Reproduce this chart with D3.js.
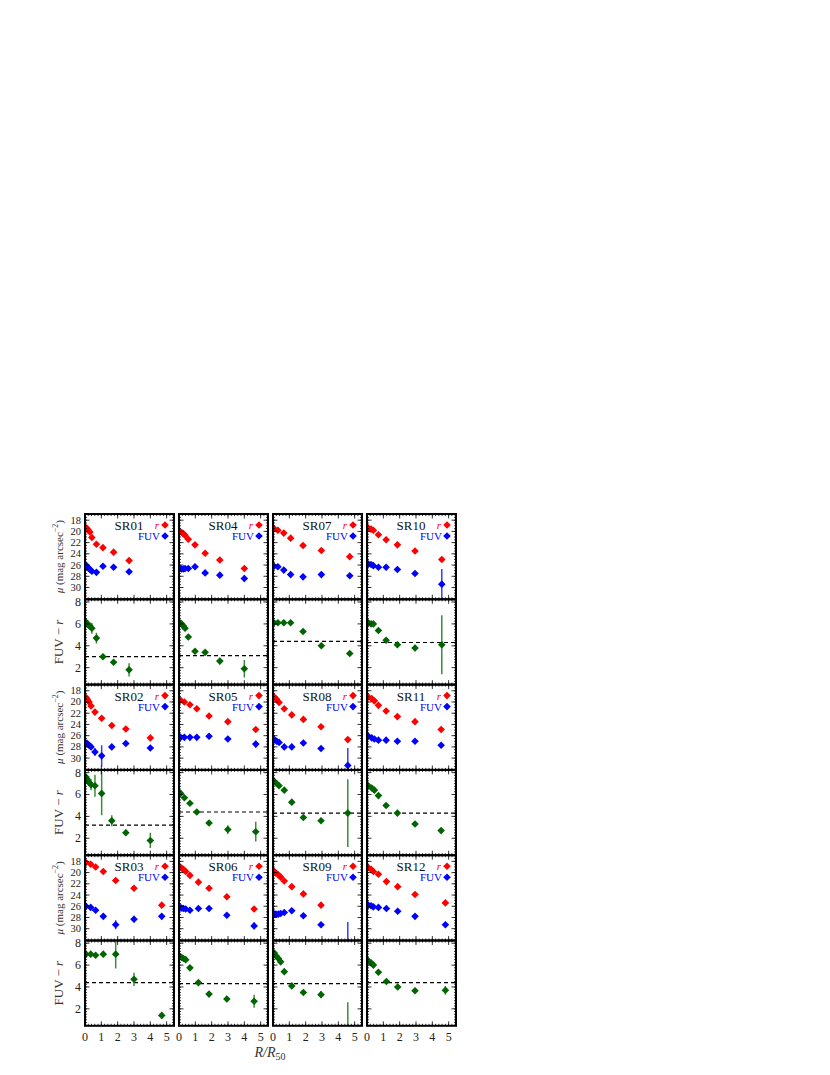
<!DOCTYPE html>
<html>
<head>
<meta charset="utf-8">
<script src="https://cdn.jsdelivr.net/npm/d3@7"></script>
<style>
body { margin: 0; background: #fff; }
text { font-family: "Liberation Serif", "DejaVu Serif", serif; }
</style>
</head>
<body>
<div id="chart"></div>
<script>
// galaxies, ordered column by column
let names = ["SR01", "SR02", "SR03", "SR04", "SR05", "SR06", "SR07", "SR08", "SR09", "SR10", "SR11", "SR12"];
let radii = [
    [0.05, 0.12, 0.2, 0.3, 0.42, 0.7, 1.1, 1.75, 2.7],
    [0.06, 0.14, 0.25, 0.37, 0.61, 1.02, 1.64, 2.5, 4.0],
    [0.06, 0.35, 0.65, 1.12, 1.88, 3.0, 4.7],
    [0.06, 0.16, 0.27, 0.37, 0.57, 0.98, 1.6, 2.5, 4.0],
    [0.1, 0.33, 0.67, 1.09, 1.84, 2.99, 4.7],
    [0.06, 0.16, 0.27, 0.41, 0.67, 1.19, 1.84, 2.93, 4.6],
    [0.06, 0.3, 0.66, 1.08, 1.84, 2.96, 4.7],
    [0.08, 0.22, 0.37, 0.69, 1.15, 1.86, 2.94, 4.58],
    [0.08, 0.18, 0.33, 0.47, 0.69, 1.15, 1.86, 2.94, 4.58],
    [0.08, 0.25, 0.39, 0.7, 1.17, 1.86, 2.94, 4.58],
    [0.08, 0.29, 0.45, 0.7, 1.17, 1.86, 2.94, 4.54],
    [0.08, 0.25, 0.39, 0.7, 1.19, 1.88, 2.94, 4.8]
];
let muR = [
    [19.3, 19.5, 19.8, 20.1, 21.1, 22.3, 22.9, 23.7, 25.2],
    [19.2, 19.5, 20.0, 20.7, 21.8, 22.9, 24.2, 24.8, 26.4],
    [18.2, 18.5, 19.0, 19.8, 21.4, 22.8, 25.8],
    [20.0, 20.2, 20.4, 20.7, 21.4, 22.4, 23.9, 25.1, 26.6],
    [19.7, 20.0, 20.5, 21.2, 22.5, 23.5, 24.9],
    [19.0, 19.2, 19.4, 19.8, 20.5, 21.7, 22.8, 24.3, 26.5],
    [19.5, 19.8, 20.3, 21.2, 22.5, 23.4, 24.5],
    [19.1, 19.5, 20.1, 21.2, 22.3, 23.1, 24.4, 26.7],
    [19.8, 20.1, 20.4, 20.8, 21.5, 22.5, 23.8, 25.8, null],
    [19.4, 19.6, 19.8, 20.6, 21.5, 22.4, 23.5, 25.0],
    [19.1, 19.4, 19.8, 20.6, 21.6, 22.6, 23.5, 24.9],
    [19.1, 19.4, 19.8, 20.3, 21.6, 22.5, 23.9, 25.4]
];
let muFUV = [
    [26.0, 26.2, 26.5, 26.8, 27.1, 27.3, 26.2, 26.4, 27.2],
    [27.3, 27.4, 27.7, 28.0, 28.9, 29.6, 28.0, 27.4, 28.2],
    [26.0, 26.2, 26.7, 27.8, 29.3, 28.3, 27.8],
    [26.6, 26.7, 26.7, 26.6, 26.6, 26.3, 27.4, 27.8, 28.4],
    [26.3, 26.3, 26.3, 26.3, 26.1, 26.6, 27.5],
    [26.2, 26.3, 26.4, 26.5, 26.7, 26.4, 26.4, 27.6, 29.5],
    [26.2, 26.3, 26.9, 27.7, 28.1, 27.7, 27.9],
    [26.7, 27.0, 27.2, 28.0, 28.0, 27.3, 28.3, 31.3],
    [27.4, 27.4, 27.4, 27.3, 27.1, 26.8, 27.7, 29.3, 34.0],
    [25.8, 25.9, 26.1, 26.4, 26.4, 26.8, 27.5, 29.4],
    [26.1, 26.4, 26.6, 26.8, 26.8, 27.0, 27.0, 27.7],
    [25.8, 25.9, 26.1, 26.2, 26.4, 26.9, 27.8, 29.3]
];
let errFUV = [
    [0.2, 0.2, 0.2, 0.2, 0.2, 0.3, 0.2, 0.2, 0.4],
    [0.2, 0.2, 0.2, 0.3, 0.7, 1.9, 0.4, 0.3, 0.5],
    [0.2, 0.2, 0.2, 0.2, 0.8, 0.6, 0.3],
    [0.2, 0.2, 0.2, 0.2, 0.2, 0.2, 0.2, 0.3, 0.6],
    [0.2, 0.2, 0.2, 0.2, 0.2, 0.3, 0.6],
    [0.2, 0.2, 0.2, 0.2, 0.2, 0.2, 0.2, 0.3, 0.6],
    [0.2, 0.2, 0.2, 0.2, 0.2, 0.2, 0.3],
    [0.2, 0.2, 0.2, 0.2, 0.2, 0.2, 0.3, 3.1],
    [0.2, 0.2, 0.2, 0.2, 0.2, 0.2, 0.2, 0.3, 5.2],
    [0.2, 0.2, 0.2, 0.2, 0.2, 0.2, 0.3, 2.7],
    [0.2, 0.2, 0.2, 0.2, 0.2, 0.2, 0.2, 0.3],
    [0.2, 0.2, 0.2, 0.2, 0.2, 0.2, 0.2, 0.3]
];
let colour = [
    [6.2, 6.0, 5.9, 5.8, 5.6, 4.7, 3.0, 2.5, 1.8],
    [7.6, 7.4, 7.1, 6.9, 6.8, 6.1, 3.6, 2.5, 1.8],
    [7.0, 7.0, 6.9, 7.0, 7.0, 4.7, 1.4],
    [6.1, 6.0, 5.8, 5.6, 4.8, 3.5, 3.4, 2.6, 1.9],
    [6.1, 5.7, 5.2, 4.4, 3.4, 2.8, 2.6],
    [6.8, 6.7, 6.6, 6.5, 5.75, 4.4, 3.35, 2.9, 2.7],
    [6.1, 6.1, 6.1, 6.1, 5.3, 4.0, 3.3],
    [7.2, 7.0, 6.8, 6.4, 5.3, 3.9, 3.6, 4.3],
    [7.1, 6.85, 6.6, 6.3, 5.4, 4.1, 3.5, 3.3, -1.0],
    [6.1, 6.0, 6.0, 5.4, 4.5, 4.1, 3.8, 4.1],
    [6.8, 6.6, 6.4, 5.9, 5.0, 4.3, 3.3, 2.7],
    [6.4, 6.2, 6.0, 5.35, 4.5, 4.0, 3.65, 3.7]
];
let errColour = [
    [0.2, 0.2, 0.2, 0.3, 0.5, 0.5, 0.2, 0.2, 0.6],
    [0.2, 0.3, 0.3, 0.5, 1.0, 2.0, 0.5, 0.3, 0.7],
    [0.2, 0.2, 0.2, 0.2, 1.3, 0.6, 0.3],
    [0.2, 0.2, 0.2, 0.2, 0.2, 0.2, 0.2, 0.3, 0.8],
    [0.2, 0.2, 0.2, 0.2, 0.2, 0.4, 0.9],
    [0.2, 0.2, 0.2, 0.2, 0.2, 0.2, 0.2, 0.2, 0.6],
    [0.2, 0.2, 0.2, 0.2, 0.2, 0.2, 0.2],
    [0.2, 0.2, 0.2, 0.2, 0.2, 0.2, 0.2, 3.1],
    [0.2, 0.2, 0.2, 0.2, 0.2, 0.2, 0.2, 0.3, 3.6],
    [0.2, 0.2, 0.2, 0.2, 0.2, 0.2, 0.3, 2.7],
    [0.2, 0.2, 0.2, 0.2, 0.2, 0.2, 0.2, 0.2],
    [0.2, 0.2, 0.2, 0.2, 0.2, 0.2, 0.2, 0.4]
];
let dashLevel = [3.0, 3.2, 4.4, 3.1, 4.4, 4.3, 4.4, 4.3, 4.3, 4.3, 4.3, 4.4];
let muTicks = [18, 20, 22, 24, 26, 28, 30];
let colourTicks = [2, 4, 6, 8];
let xTicks = [0, 1, 2, 3, 4, 5];

let _default = {
    left: 85,
    top: 514,
    width: 89,
    col_step: 94,
    height: 85.3,
    red: "#ff0000",
    blue: "#0000ff",
    green: "#006400",
    errgreen: "#3c8c3c",
    errblue: "#3b3bff"
};

let svg = d3.select("#chart").append("svg")
    .attr("width", 830)
    .attr("height", 1075);

let x = d3.scaleLinear().domain([0, 5.45]).range([0, _default.width]);
let yMu = d3.scaleLinear().domain([16.9, 32.1]).range([0, _default.height]);
let yCol = d3.scaleLinear().domain([0.45, 8.25]).range([_default.height, 0]);
// matplotlib style diamond: as wide as it is tall
let diamond = "M0,-3.8L3.8,0L0,3.8L-3.8,0Z";

let xMinor = d3.range(0, 5.45, 0.2);
let muMinor = d3.range(17, 32.1, 0.5);
let colMinor = d3.range(0.5, 8.25, 0.25);

// inward ticks on all four sides of a panel
let frameTicks = (g, y, yMajor, yMinor) => {
    let w = _default.width, h = _default.height;
    let tk = g.append("g").attr("stroke", "#000").attr("stroke-width", 0.8);
    [[xMinor, 2], [xTicks, 4.5]].forEach(([vals, len]) => {
        tk.selectAll(null).data(vals).enter().append("line")
            .attr("x1", d => x(d)).attr("x2", d => x(d)).attr("y1", 0).attr("y2", len);
        tk.selectAll(null).data(vals).enter().append("line")
            .attr("x1", d => x(d)).attr("x2", d => x(d)).attr("y1", h).attr("y2", h - len);
    });
    [[yMinor, 2], [yMajor, 4.5]].forEach(([vals, len]) => {
        tk.selectAll(null).data(vals).enter().append("line")
            .attr("y1", d => y(d)).attr("y2", d => y(d)).attr("x1", 0).attr("x2", len);
        tk.selectAll(null).data(vals).enter().append("line")
            .attr("y1", d => y(d)).attr("y2", d => y(d)).attr("x1", w).attr("x2", w - len);
    });
    g.append("rect").attr("width", w).attr("height", h)
        .attr("fill", "none").attr("stroke", "#000").attr("stroke-width", 2);
};

let yLabels = (g, y, vals, size) => {
    g.selectAll(null).data(vals).enter().append("text")
        .attr("x", -4).attr("y", d => y(d) + size / 3).attr("text-anchor", "end")
        .attr("font-size", size).attr("fill", "#222").text(d => d);
};

names.forEach((name, i) => {
    let col = Math.floor(i / 3), row = i % 3;
    let gx = _default.left + col * _default.col_step;
    let muTop = _default.top + row * 2 * _default.height;
    let colTop = muTop + _default.height;
    let rs = radii[i];

    // mu panel
    let g = svg.append("g").attr("transform", `translate(${gx},${muTop})`);
    g.append("clipPath").attr("id", "cm" + i).append("rect")
        .attr("width", _default.width).attr("height", _default.height);
    let pts = g.append("g").attr("clip-path", `url(#cm${i})`);
    pts.selectAll(null).data(rs).enter().append("line")
        .attr("x1", d => x(d)).attr("x2", d => x(d))
        .attr("y1", (d, j) => yMu(muFUV[i][j] - errFUV[i][j]))
        .attr("y2", (d, j) => yMu(muFUV[i][j] + errFUV[i][j]))
        .attr("stroke", _default.errblue).attr("stroke-width", 1.5);
    pts.selectAll(null).data(rs).enter().append("path")
        .attr("d", diamond)
        .attr("transform", (d, j) => `translate(${x(d)},${yMu(muFUV[i][j])})`)
        .attr("fill", _default.blue);
    pts.selectAll(null).data(rs.map((d, j) => [d, muR[i][j]]).filter(d => d[1] !== null)).enter().append("path")
        .attr("d", diamond)
        .attr("transform", d => `translate(${x(d[0])},${yMu(d[1])})`)
        .attr("fill", _default.red);
    // legend
    g.append("text").attr("x", 74).attr("y", 15).attr("text-anchor", "end")
        .attr("font-size", 11).attr("font-style", "italic").attr("fill", _default.red).text("r");
    g.append("path").attr("d", diamond).attr("transform", "translate(80,11)").attr("fill", _default.red);
    g.append("text").attr("x", 75).attr("y", 26).attr("text-anchor", "end")
        .attr("font-size", 11).attr("fill", _default.blue).text("FUV");
    g.append("path").attr("d", diamond).attr("transform", "translate(80,22)").attr("fill", _default.blue);
    g.append("text").attr("x", 44).attr("y", 16).attr("text-anchor", "middle")
        .attr("font-size", 13).attr("fill", "#111").text(name);
    frameTicks(g, yMu, muTicks, muMinor);
    if (col === 0) yLabels(g, yMu, muTicks, 10.5);

    // colour panel
    let h = svg.append("g").attr("transform", `translate(${gx},${colTop})`);
    h.append("clipPath").attr("id", "cc" + i).append("rect")
        .attr("width", _default.width).attr("height", _default.height);
    let cp = h.append("g").attr("clip-path", `url(#cc${i})`);
    cp.append("line").attr("x1", 0).attr("x2", _default.width)
        .attr("y1", yCol(dashLevel[i])).attr("y2", yCol(dashLevel[i]))
        .attr("stroke", "#000").attr("stroke-width", 1.2).attr("stroke-dasharray", "4,3");
    cp.selectAll(null).data(rs).enter().append("line")
        .attr("x1", d => x(d)).attr("x2", d => x(d))
        .attr("y1", (d, j) => yCol(colour[i][j] - errColour[i][j]))
        .attr("y2", (d, j) => yCol(colour[i][j] + errColour[i][j]))
        .attr("stroke", _default.errgreen).attr("stroke-width", 1.5);
    cp.selectAll(null).data(rs).enter().append("path")
        .attr("d", diamond)
        .attr("transform", (d, j) => `translate(${x(d)},${yCol(colour[i][j])})`)
        .attr("fill", _default.green);
    frameTicks(h, yCol, colourTicks, colMinor);
    if (col === 0) yLabels(h, yCol, colourTicks, 12);
    if (row === 2) {
        h.selectAll(null).data(xTicks).enter().append("text")
            .attr("x", d => x(d)).attr("y", _default.height + 15).attr("text-anchor", "middle")
            .attr("font-size", 12).attr("fill", "#222").text(d => d);
    }

    if (col === 0) {
        svg.append("text")
            .attr("transform", `translate(63,${muTop + _default.height / 2}) rotate(-90)`)
            .attr("text-anchor", "middle").attr("font-size", 11).attr("fill", "#333")
            .html('<tspan font-style="italic">μ</tspan> (mag arcsec<tspan dy="-5" font-size="8">−2</tspan><tspan dy="5">)</tspan>');
        svg.append("text")
            .attr("transform", `translate(63,${colTop + _default.height / 2}) rotate(-90)`)
            .attr("text-anchor", "middle").attr("font-size", 13).attr("fill", "#333")
            .html('FUV − <tspan font-style="italic">r</tspan>');
    }
});

svg.append("text").attr("x", 270).attr("y", 1057).attr("text-anchor", "middle")
    .attr("font-size", 14).attr("fill", "#333").attr("font-style", "italic")
    .html('R/R<tspan dy="3" font-size="10" font-style="normal">50</tspan>');
</script>
</body>
</html>
